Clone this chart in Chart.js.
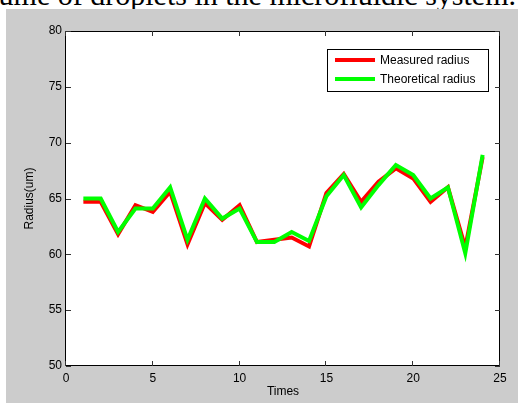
<!DOCTYPE html>
<html>
<head>
<meta charset="utf-8">
<script src="https://cdn.jsdelivr.net/npm/chart.js@4"></script>
<style>
  html, body { margin: 0; padding: 0; background: #fff; }
  #wrap { position: relative; width: 522px; height: 403px; overflow: hidden; }
  #caption {
    position: absolute; right: 6px; top: -20px; white-space: nowrap;
    font: 30px "Liberation Serif", "Times New Roman", serif; line-height: 30px; color: #000;
  }
  #figure { position: absolute; left: 6px; top: 9px; width: 512px; height: 394px; background: #cccccc; }
  #grafico { position: absolute; left: 0; top: 0; }
</style>
</head>
<body>
<div id="wrap">
  <div id="caption">volume of droplets in the microfluidic system.</div>
  <div id="figure"></div>
  <canvas id="grafico" width="522" height="403"></canvas>
</div>
<script>
// Dados
const tempos = [1, 2, 3, 4, 5, 6, 7, 8, 9, 10, 11, 12, 13, 14, 15, 16, 17, 18, 19, 20, 21, 22, 23, 24];
const raioMedido = [64.7, 64.7, 61.8, 64.4, 63.8, 65.6, 60.9, 64.6, 63.1, 64.4, 61.1, 61.3,
  61.5, 60.7, 65.5, 67.2, 64.7, 66.5, 67.7, 66.8, 64.7, 66.0, 60.6, 68.7];
const raioTeorico = [65.0, 65.0, 62.0, 64.1, 64.1, 66.0, 61.3, 65.0, 63.2, 64.1, 61.1, 61.1,
  62.0, 61.2, 65.2, 67.1, 64.2, 66.2, 68.0, 67.1, 65.0, 66.0, 60.1, 68.9];
const ticksX = [0, 5, 10, 15, 20, 25];
const ticksY = [50, 55, 60, 65, 70, 75, 80];
const legendas = ['Measured radius', 'Theoretical radius'];
const cores = ['#ff0000', '#00ff00'];

const fonte = '"Liberation Sans", Arial, sans-serif';

// Estilo MATLAB: fundo branco, caixa, ticks para dentro, legenda e títulos
const estiloMatlab = {
  id: 'estiloMatlab',
  beforeDatasetsDraw(chart) {
    const { ctx, chartArea: a } = chart;
    ctx.save();
    ctx.fillStyle = '#ffffff';
    ctx.fillRect(a.left, a.top, a.right - a.left, a.bottom - a.top);
    ctx.restore();
  },
  afterDatasetsDraw(chart) {
    const { ctx, chartArea: a, scales } = chart;
    ctx.save();
    ctx.strokeStyle = '#000000';
    ctx.lineWidth = 1;
    ctx.strokeRect(Math.round(a.left) - 0.5, Math.round(a.top) + 0.5,
      Math.round(a.right - a.left), Math.round(a.bottom - a.top) - 1);

    // ticks para dentro
    ctx.strokeStyle = '#333333';
    ctx.beginPath();
    ticksX.forEach(v => {
      const x = Math.round(scales.x.getPixelForValue(v)) - 0.5;
      ctx.moveTo(x, a.bottom); ctx.lineTo(x, a.bottom - 5);
      ctx.moveTo(x, a.top); ctx.lineTo(x, a.top + 5);
    });
    ticksY.forEach(v => {
      const y = Math.round(scales.y.getPixelForValue(v)) + 0.5;
      ctx.moveTo(a.left, y); ctx.lineTo(a.left + 5, y);
      ctx.moveTo(a.right, y); ctx.lineTo(a.right - 5, y);
    });
    ctx.stroke();

    // legenda
    ctx.fillStyle = '#ffffff';
    ctx.fillRect(327.5, 49.5, 161, 42);
    ctx.strokeStyle = '#000000';
    ctx.strokeRect(327.5, 49.5, 161, 42);
    ctx.font = '12px ' + fonte;
    ctx.textBaseline = 'middle';
    ctx.textAlign = 'left';
    legendas.forEach((texto, i) => {
      const y = 60 + i * 19;
      ctx.strokeStyle = cores[i];
      ctx.lineWidth = 4;
      ctx.beginPath();
      ctx.moveTo(335, y); ctx.lineTo(375, y);
      ctx.stroke();
      ctx.fillStyle = '#000000';
      ctx.fillText(texto, 380, y + 0.5);
    });

    // títulos dos eixos
    ctx.fillStyle = '#000000';
    ctx.textAlign = 'center';
    ctx.fillText('Times', (a.left + a.right) / 2, 392);
    ctx.translate(30, (a.top + a.bottom) / 2);
    ctx.rotate(-Math.PI / 2);
    ctx.fillText('Radius(um)', 0, 0);
    ctx.restore();
  }
};

const ctx = document.getElementById('grafico').getContext('2d');
const grafico = new Chart(ctx, {
  type: 'line',
  data: {
    datasets: [
      {
        label: legendas[0],
        data: tempos.map((t, i) => ({ x: t, y: raioMedido[i] })),
        borderColor: cores[0],
        borderWidth: 4,
        pointRadius: 0,
        tension: 0,
        order: 2
      },
      {
        label: legendas[1],
        data: tempos.map((t, i) => ({ x: t, y: raioTeorico[i] })),
        borderColor: cores[1],
        borderWidth: 4,
        pointRadius: 0,
        tension: 0,
        order: 1
      }
    ]
  },
  options: {
    responsive: false,
    animation: false,
    events: [],
    layout: { padding: { left: 0, top: 31, right: 22, bottom: 0 } },
    plugins: {
      legend: { display: false },
      tooltip: { enabled: false }
    },
    scales: {
      x: {
        type: 'linear',
        min: 0,
        max: 25,
        afterFit: escala => { escala.height = 37; },
        afterBuildTicks: escala => { escala.ticks = ticksX.map(v => ({ value: v })); },
        ticks: { color: '#000000', font: { family: fonte, size: 12 }, padding: 5, maxRotation: 0 },
        grid: { display: false, drawTicks: false, tickLength: 0 },
        border: { display: false }
      },
      y: {
        min: 50,
        max: 80,
        afterFit: escala => { escala.width = 66; },
        afterBuildTicks: escala => { escala.ticks = ticksY.map(v => ({ value: v })); },
        ticks: { color: '#000000', font: { family: fonte, size: 12 }, padding: 4 },
        grid: { display: false, drawTicks: false, tickLength: 0 },
        border: { display: false }
      }
    }
  },
  plugins: [estiloMatlab]
});
</script>
</body>
</html>
